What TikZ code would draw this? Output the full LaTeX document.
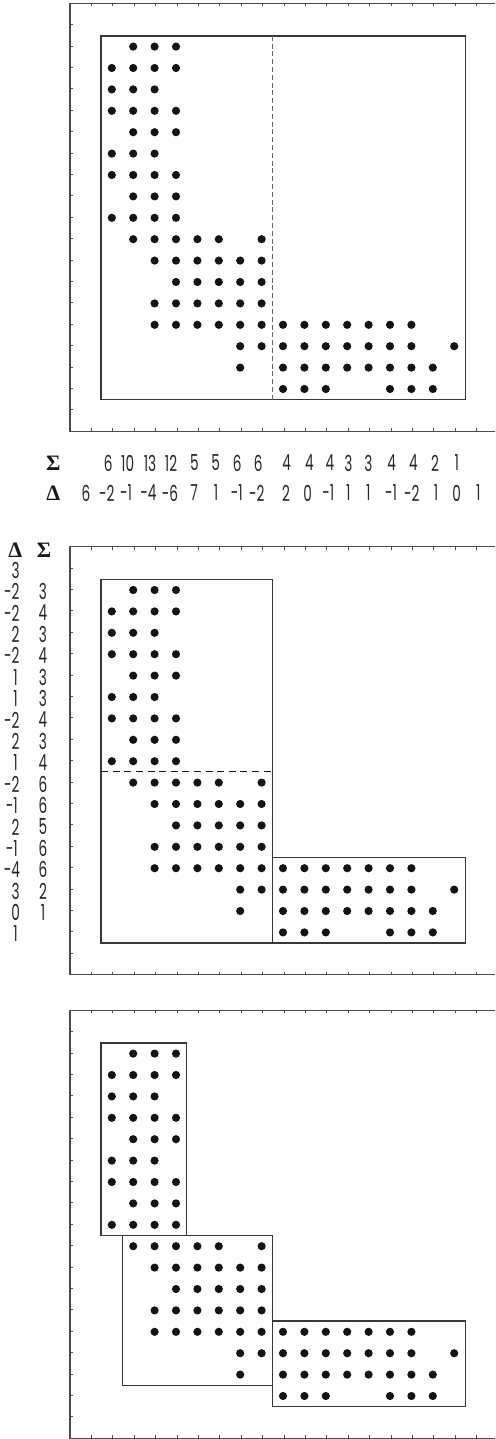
\documentclass[tikz,border=0pt]{standalone}
\usepackage{fontspec}
\newfontfamily\labfont{Poppins}[FakeStretch=0.62]
\newfontfamily\symfont{Liberation Serif}
\tikzset{
  frameline/.style={draw=black!70, line width=0.75pt},
  tickline/.style={draw=black!70, line width=0.45pt},
  boxline/.style={draw=black!78, line width=0.65pt},
  dashv/.style={draw=black!60, line width=0.8pt, dash pattern=on 2.5pt off 1.4pt},
  dashh/.style={draw=black!90, line width=0.5pt, dash pattern=on 3.5pt off 2.3pt},
  dotfill/.style={fill=black!92},
  num/.style={font=\labfont\fontsize{11}{13}\selectfont, inner sep=0pt, text=black!85},
  sym/.style={font=\symfont\bfseries\fontsize{11}{13}\selectfont, inner sep=0pt, text=black!90},
}
\newcommand\drawframe[1]{%
  \draw[frameline] (495,#1) -- (70,#1) -- (70,#1+428) -- (495,#1+428);
  \foreach \k in {1,...,19}{
    \draw[tickline] (70+\k*21.4,#1) -- ++(0,3);
    \draw[tickline] (70+\k*21.4,#1+428) -- ++(0,-3);
    \draw[tickline] (70,#1+\k*21.4) -- ++(3,0);
  }%
}
\newcommand\drawdots[1]{%
  \foreach \r/\cs in {0/{1,2,3},1/{0,1,2,3},2/{0,1,2},3/{0,1,2,3},4/{1,2,3},
      5/{0,1,2},6/{0,1,2,3},7/{1,2,3},8/{0,1,2,3},9/{1,2,3,4,5,7},
      10/{2,3,4,5,6,7},11/{3,4,5,6,7},12/{2,3,4,5,6,7},
      13/{2,3,4,5,6,7,8,9,10,11,12,13,14},14/{6,7,8,9,10,11,12,13,14,16},
      15/{6,8,9,10,11,12,13,14,15},16/{8,9,10,13,14,15}}{
    \foreach \c in \cs {
      \fill[dotfill] (111.8+\c*21.4, #1+43.3+\r*21.4) circle[radius=2.05pt];
    }
  }%
}
\begin{document}
\begin{tikzpicture}[x=0.5pt,y=-0.5pt]
\useasboundingbox (0,0) rectangle (495,1439);

% ---------------- Panel 1 ----------------
\def\Ya{3.3}
\drawframe{\Ya}
\drawdots{\Ya}
\draw[boxline] (101.1,\Ya+32.6) rectangle (465.6,\Ya+396.4);
\draw[dashv] (272.3,\Ya+32.6) -- (272.3,\Ya+396.4);

\node[sym] (sigA) at (53.3,463) {Σ};
\node[sym] (delA) at (53.3,493) {Δ};
\foreach \x/\v [count=\i] in {108.3/6,127.7/10,150/13,171/12,194.3/5,215.7/5,237.3/6,258.3/6,
    286.7/4,309.3/4,330/4,348.3/3,368.3/3,391.7/4,413.3/4,435/2,456.7/1}{
  \node[num] (cs\i) at (\x,463) {\v};
}
\foreach \x/\v [count=\i] in {86/6,106.7/-2,126/-1,148.3/-4,170/-6,194/7,216/1,236.7/-1,256.7/-2,
    286/2,307.7/0,328.3/-1,348.3/1,368.3/1,391/-1,411.7/-2,436/1,456.7/0,478.3/1}{
  \node[num] (cd\i) at (\x,493) {\v};
}

% ---------------- Panel 2 ----------------
\def\Yb{546.7}
\drawframe{\Yb}
\drawdots{\Yb}
\draw[boxline] (101.1,\Yb+32.6) rectangle (272.3,\Yb+396.4);
\draw[dashh] (101.1,\Yb+225.2) -- (272.3,\Yb+225.2);
\draw[boxline] (272.3,\Yb+310.8) rectangle (465.6,\Yb+396.4);

\node[sym] (delB) at (15.3,550) {Δ};
\node[sym] (sigB) at (44,550) {Σ};
\foreach \v [count=\i] in {3,\llap{-}2,\llap{-}2,2,\llap{-}2,1,1,\llap{-}2,2,1,\llap{-}2,\llap{-}1,2,\llap{-}1,\llap{-}4,3,0,1}{
  \node[num] (rd\i) at (15.6,\Yb+43.3+\i*21.4-42.8+1.5) {\v};
}
\foreach \v [count=\i] in {3,4,3,4,3,3,4,3,4,6,6,5,6,6,2,1}{
  \node[num] (rs\i) at (43,\Yb+43.3+\i*21.4-21.4+1.5) {\v};
}

% ---------------- Panel 3 ----------------
\def\Yc{1010.3}
\drawframe{\Yc}
\drawdots{\Yc}
\draw[boxline] (101.1,\Yc+32.6) rectangle (186.7,\Yc+225.2);
\draw[boxline] (122.5,\Yc+225.2) rectangle (272.3,\Yc+375.0);
\draw[boxline] (272.3,\Yc+310.8) rectangle (465.6,\Yc+396.4);
\end{tikzpicture}
\end{document}
